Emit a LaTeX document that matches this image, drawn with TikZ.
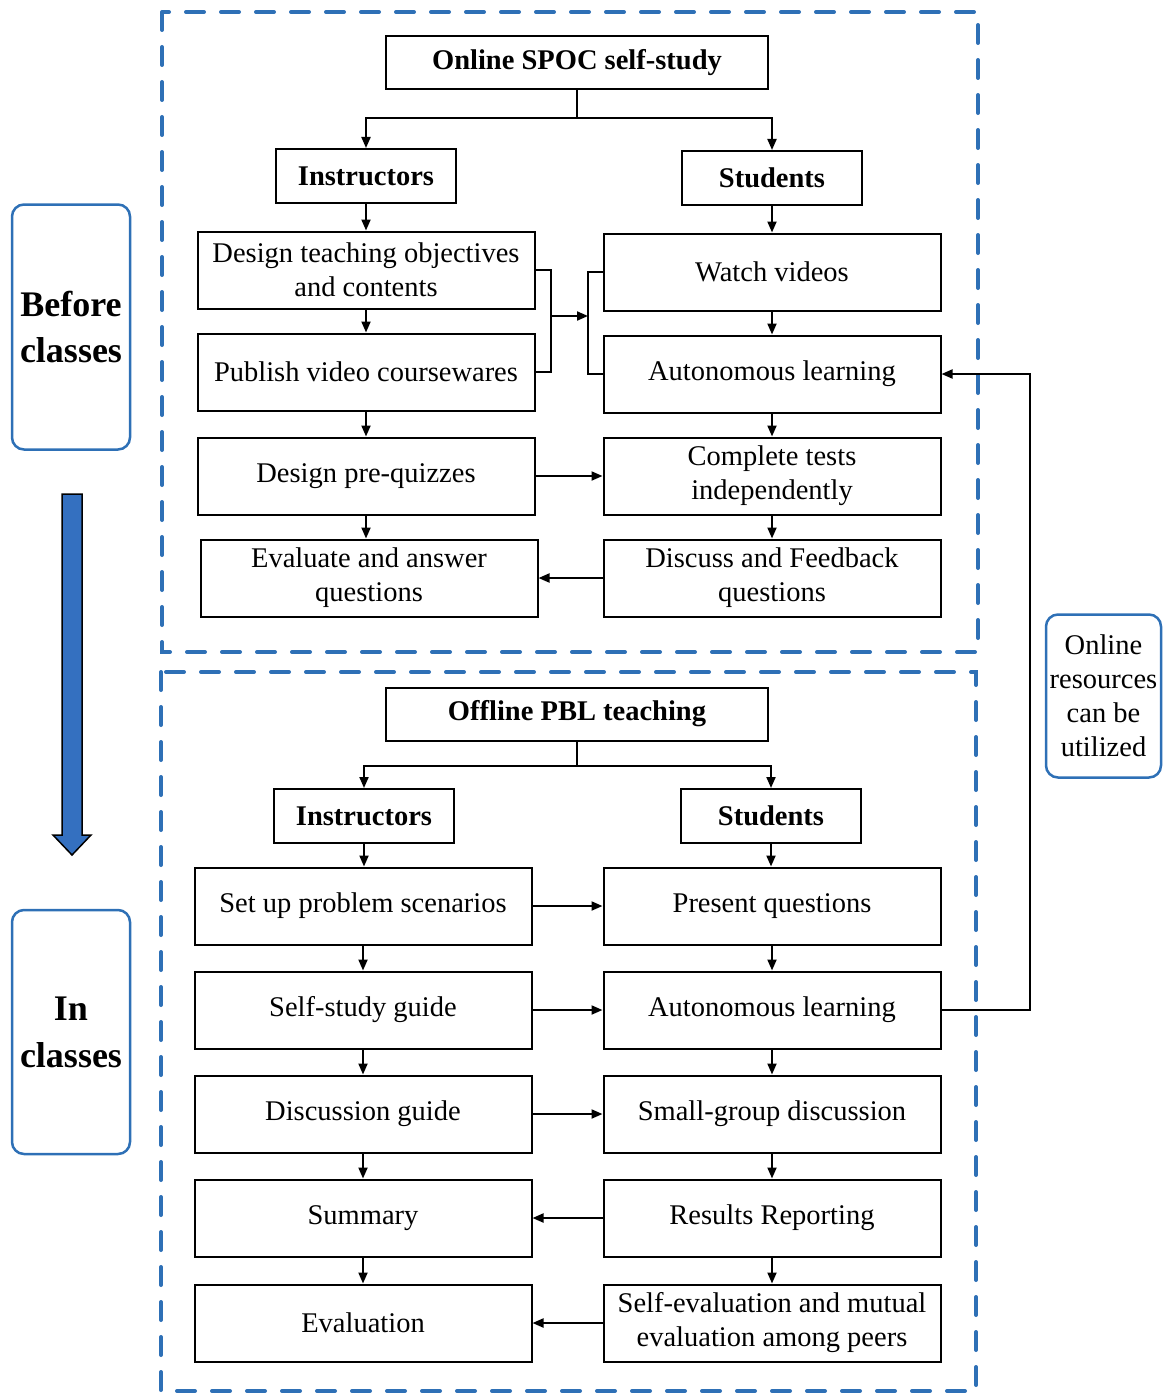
\documentclass[tikz,border=0pt]{standalone}
\usepackage{fontspec}
\setmainfont{Liberation Serif}
\usetikzlibrary{arrows.meta,calc}
\definecolor{dashblue}{RGB}{46,112,182}
\definecolor{arrowblue}{RGB}{52,112,192}
\begin{document}
\begin{tikzpicture}[x=1pt,y=-1pt,
  cbox/.style={draw,line width=2pt,minimum width=337pt,minimum height=77pt,align=center,inner sep=2pt,font=\fontsize{28.5}{34}\selectfont},
  hdbox/.style={draw,line width=2pt,minimum width=180pt,minimum height=54pt,inner sep=2pt,font=\bfseries\fontsize{28.5}{32}\selectfont},
  topbox/.style={draw,line width=2pt,minimum width=382pt,minimum height=53pt,inner sep=2pt,font=\bfseries\fontsize{28.5}{32}\selectfont},
  arr/.style={-{Triangle[length=11pt,width=9pt]},line width=2pt},
  ln/.style={line width=2pt},
  dbox/.style={draw=dashblue,line width=4pt,dash pattern=on 18pt off 17pt,line cap=round},
  sidebox/.style={draw=dashblue,line width=2.5pt,rounded corners=12pt,align=center,inner sep=1pt}]
\useasboundingbox (0,0) rectangle (1163,1394);

% dashed frames
\draw[dbox] (162,12) rectangle (978,652);
\draw[dbox] (161,672) rectangle (976,1391);

% side labels
\node[sidebox,minimum width=118pt,minimum height=245pt,font=\bfseries\fontsize{36}{46}\selectfont] (bc) at (71,327) {Before\\classes};
\node[sidebox,minimum width=118pt,minimum height=244pt,font=\bfseries\fontsize{36}{47}\selectfont] (ic) at (71,1032) {In\\classes};
\node[sidebox,minimum width=115pt,minimum height=163pt,font=\fontsize{28.5}{34}\selectfont] (or) at (1103.5,696) {Online\\resources\\can be\\utilized};

% big blue arrow
\draw[line width=1.5pt,fill=arrowblue] (62,494) -- (82,494) -- (82,835) -- (91,835) -- (72,855) -- (53,835) -- (62,835) -- cycle;

% ---------- before classes ----------
\node[topbox] (spoc) at (577,63) {Online SPOC self-study};
\node[hdbox] (ins1) at (366,176) {Instructors};
\node[hdbox] (stu1) at (772,178) {Students};
\node[cbox] (dto) at (366,270) {Design teaching objectives\\and contents};
\node[cbox] (pvc) at (366,372) {Publish video coursewares};
\node[cbox] (dpq) at (366,476) {Design pre-quizzes};
\node[cbox] (eaq) at (369,578) {Evaluate and answer\\questions};
\node[cbox] (wv) at (772,272) {Watch videos};
\node[cbox] (al1) at (772,374) {Autonomous learning};
\node[cbox] (cti) at (772,476) {Complete tests\\independently};
\node[cbox] (dfq) at (772,578) {Discuss and Feedback\\questions};

\coordinate (j1) at (577,118);
\draw[ln] (spoc.south) -- (j1);
\draw[arr] (j1) -| (ins1.north);
\draw[arr] (j1) -| (stu1.north);
\draw[arr] (ins1) -- (dto);
\draw[arr] (dto) -- (pvc);
\draw[arr] (pvc) -- (dpq);
\draw[arr] (dpq.south) -- (dpq.south |- eaq.north);
\draw[arr] (stu1) -- (wv);
\draw[arr] (wv) -- (al1);
\draw[arr] (al1) -- (cti);
\draw[arr] (cti) -- (dfq);
\draw[arr] (dpq) -- (cti);
\draw[arr] (dfq) -- (eaq);
\coordinate (br1) at (551,316);
\coordinate (br2) at (588,316);
\draw[ln] (dto.east) -| (br1) |- (pvc.east);
\draw[ln] (wv.west) -| (br2) |- (al1.west);
\draw[arr] (br1) -- (br2);

% ---------- in classes ----------
\node[topbox] (pbl) at (577,714) {Offline PBL teaching};
\node[hdbox] (ins2) at (364,816) {Instructors};
\node[hdbox] (stu2) at (771,816) {Students};
\node[cbox] (sps) at (363,906) {Set up problem scenarios};
\node[cbox] (ssg) at (363,1010) {Self-study guide};
\node[cbox] (dg) at (363,1114) {Discussion guide};
\node[cbox] (sum) at (363,1218) {Summary};
\node[cbox] (ev) at (363,1323) {Evaluation};
\node[cbox] (pq) at (772,906) {Present questions};
\node[cbox] (al2) at (772,1010) {Autonomous learning};
\node[cbox] (sgd) at (772,1114) {Small-group discussion};
\node[cbox] (rr) at (772,1218) {Results Reporting};
\node[cbox] (sem) at (772,1323) {Self-evaluation and mutual\\evaluation among peers};

\coordinate (j2) at (577,766);
\draw[ln] (pbl.south) -- (j2);
\draw[arr] (j2) -| (ins2.north);
\draw[arr] (j2) -| (stu2.north);
\draw[arr] (ins2.south) -- (ins2.south |- sps.north);
\draw[arr] (sps) -- (ssg);
\draw[arr] (ssg) -- (dg);
\draw[arr] (dg) -- (sum);
\draw[arr] (sum) -- (ev);
\draw[arr] (stu2.south) -- (stu2.south |- pq.north);
\draw[arr] (pq) -- (al2);
\draw[arr] (al2) -- (sgd);
\draw[arr] (sgd) -- (rr);
\draw[arr] (rr) -- (sem);
\draw[arr] (sps) -- (pq);
\draw[arr] (ssg) -- (al2);
\draw[arr] (dg) -- (sgd);
\draw[arr] (rr) -- (sum);
\draw[arr] (sem) -- (ev);

% feedback loop
\draw[arr] (al2.east) -- ++(88,0) |- (al1.east);
\end{tikzpicture}
\end{document}
